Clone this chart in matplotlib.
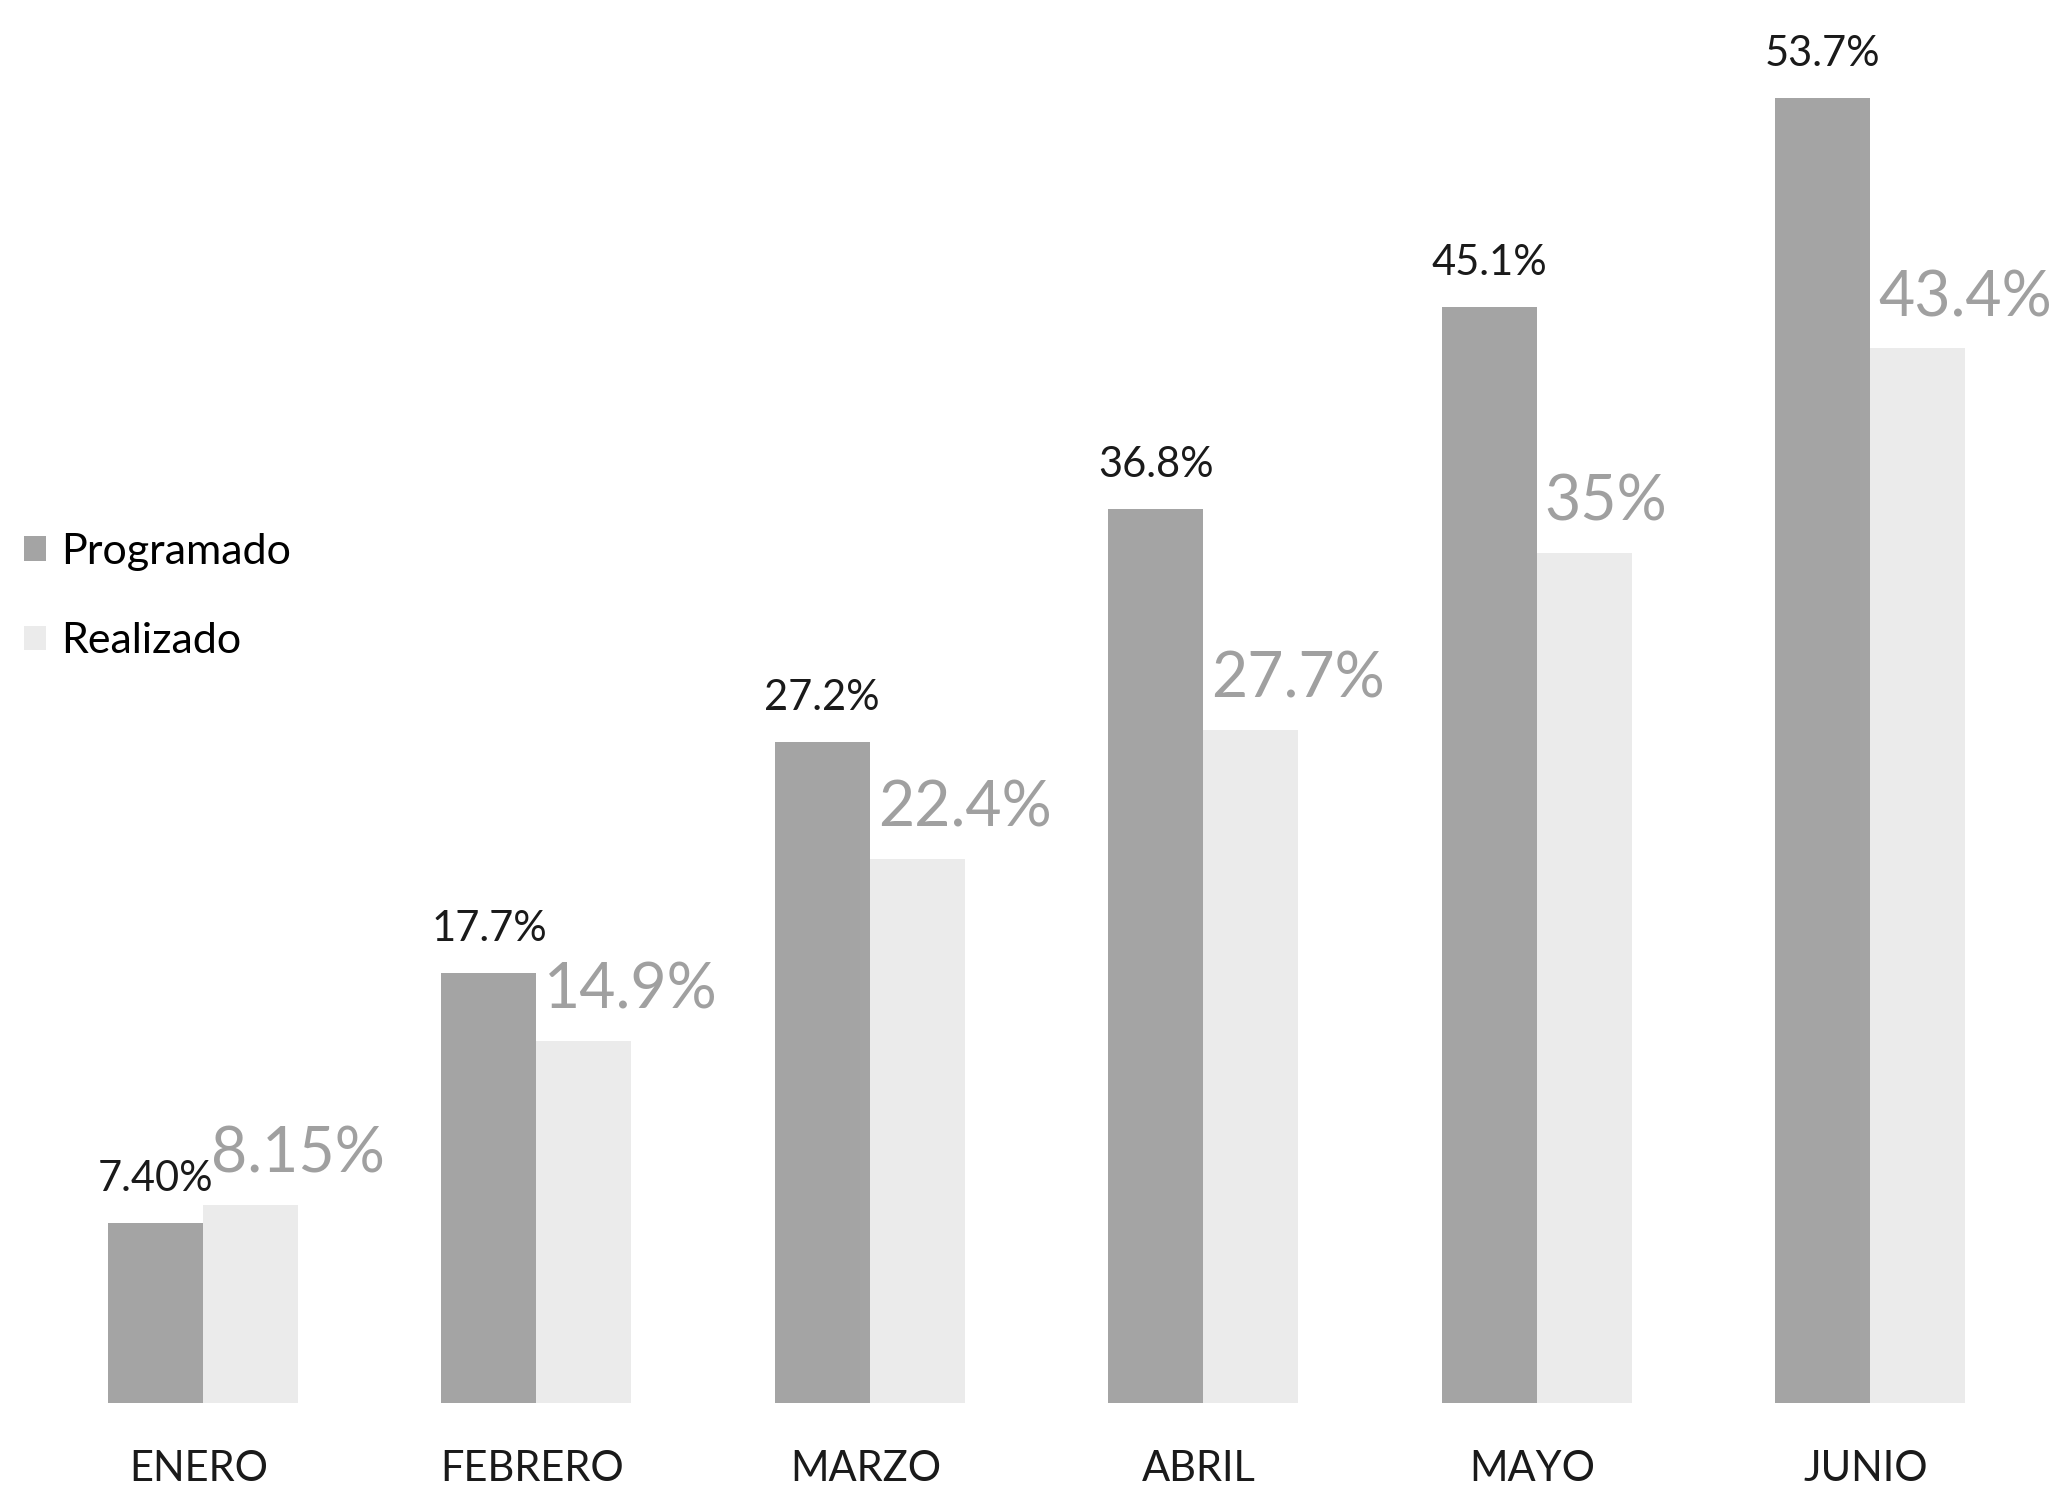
import matplotlib
matplotlib.use("Agg")
import matplotlib.pyplot as plt
import numpy as np

meses = ["ENERO", "FEBRERO", "MARZO", "ABRIL", "MAYO", "JUNIO"]
programado = [7.40, 17.7, 27.2, 36.8, 45.1, 53.7]
realizado = [8.15, 14.9, 22.4, 27.7, 35.0, 43.4]
etiquetas_prog = ["7.40%", "17.7%", "27.2%", "36.8%", "45.1%", "53.7%"]
etiquetas_real = ["8.15%", "14.9%", "22.4%", "27.7%", "35%", "43.4%"]

plt.rcParams['font.family'] = ['Lato', 'DejaVu Sans']

color_prog = "#a4a4a4"
color_real = "#ebebeb"

fig = plt.figure(figsize=(20.6, 14.91), dpi=100)
ax = fig.add_axes([0, 0, 1, 1])
x = np.arange(len(meses))
w = 0.285

bars_p = ax.bar(x - w/2, programado, w, color=color_prog, label="Programado")
bars_r = ax.bar(x + w/2, realizado, w, color=color_real, label="Realizado")

# etiquetas de valor
for b, t in zip(bars_p, etiquetas_prog):
    ax.annotate(t, (b.get_x() + b.get_width()/2, b.get_height()),
                xytext=(0, 32), textcoords="offset pixels",
                ha="center", va="baseline", fontsize=30, color="#1a1a1a")
for b, t in zip(bars_r, etiquetas_real):
    ax.annotate(t, (b.get_x(), b.get_height()),
                xytext=(8, 32), textcoords="offset pixels",
                ha="left", va="baseline", fontsize=45, color="#a0a0a0")

# nombres de meses
for i, m in enumerate(meses):
    ax.annotate(m, (x[i], 0), xytext=(-4, -78), textcoords="offset pixels",
                ha="center", va="baseline", fontsize=30, color="#1a1a1a")

ax.set_xlim(-0.609, 5.570)
ax.set_ylim(-3.62, 57.74)
ax.axis("off")

leg = fig.legend(handles=[bars_p, bars_r], loc="center left",
                 bbox_to_anchor=(0.0117, 0.600), frameon=False, fontsize=31,
                 borderaxespad=0, borderpad=0,
                 handlelength=0.5, handleheight=0.5, handletextpad=0.35,
                 labelspacing=1.2)

fig.savefig("out.png", dpi=100, facecolor="white")
